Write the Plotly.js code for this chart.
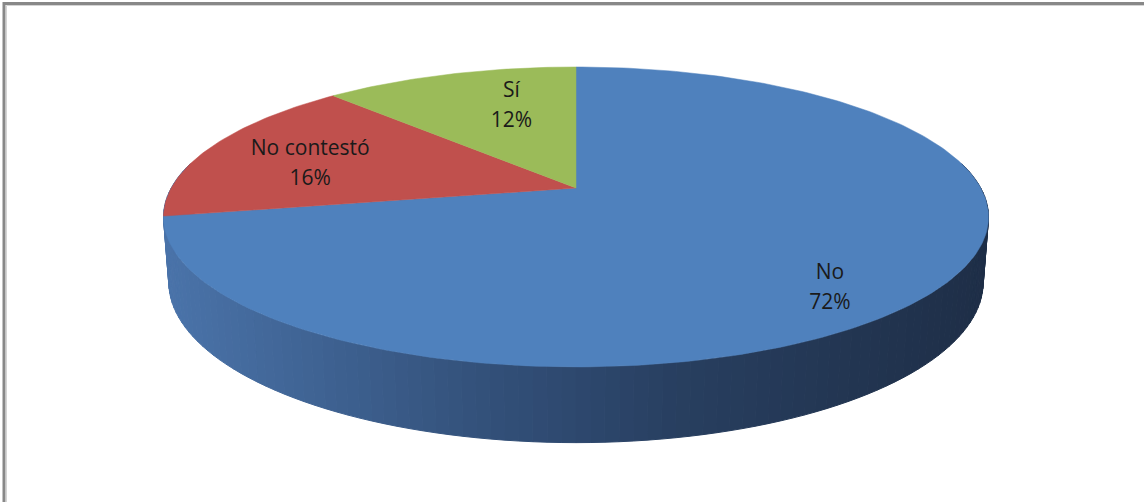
<!DOCTYPE html>
<html>
<head>
<meta charset="utf-8">
<script src="https://cdn.plot.ly/plotly-3.0.1.min.js"></script>
<style>html,body{margin:0;padding:0;background:#fff;}#chart{width:1144px;height:502px;}</style>
</head>
<body>
<div id="chart"></div>
<script>
// ---- data ----
const categories = ['No', 'No contestó', 'Sí'];
const values = [72, 16, 12];
const sliceColors = ['#4f81bd', '#c0504d', '#9bbb59'];

// ---- 3D perspective pie geometry (layout parameters) ----
const W = 1144, H = 502;
const cx = 576, cy = 188;          // screen position of pie centre
const f = 1959, D = 4.84;           // focal length (px) and camera distance (radius units)
const phi = 20.9 * Math.PI / 180;  // elevation
const c = Math.cos(phi), s = Math.sin(phi);
const depth = 0.17;                 // thickness in radius units
const labelR = [0.74, 0.72, 0.47];
const labelLift = [1.35, 0.75, 1.4];
const lineGap = 15;                 // half spacing between label lines (px)

function proj(X, Y, Z) {
  const w = D + Z * c - Y * s;
  const v = Y * c + Z * s;
  return [cx + f * X / w, cy - f * v / w];
}
function ptAt(deg, r, Y) {
  const t = deg * Math.PI / 180;
  return proj(r * Math.sin(t), Y, r * Math.cos(t));
}

// wall gradient colours by screen x
const stops = [[0, [74, 115, 169]], [0.38, [51, 81, 123]], [0.62, [40, 63, 96]], [1, [30, 46, 71]]];
function wallColor(x) {
  let t = (x - 165) / (988 - 165);
  t = Math.max(0, Math.min(1, t));
  for (let i = 0; i < stops.length - 1; i++) {
    const [t0, c0] = stops[i], [t1, c1] = stops[i + 1];
    if (t <= t1) {
      const u = (t - t0) / (t1 - t0);
      const col = c0.map((v, k) => Math.round(v + (c1[k] - v) * u));
      return 'rgb(' + col.join(',') + ')';
    }
  }
  return 'rgb(30,46,71)';
}

const traces = [];
// side wall: strips around the front half
const a0w = 80, a1w = 280, nStrips = 120;
for (let i = 0; i < nStrips; i++) {
  const aa = a0w + (a1w - a0w) * i / nStrips;
  const ab = a0w + (a1w - a0w) * (i + 1) / nStrips;
  const p = [ptAt(aa, 1, 0), ptAt(ab, 1, 0), ptAt(ab, 1, -depth), ptAt(aa, 1, -depth)];
  const col = wallColor((p[0][0] + p[1][0]) / 2);
  traces.push({
    type: 'scatter', mode: 'lines', fill: 'toself', fillcolor: col,
    line: {color: col, width: 1},
    x: p.map(q => q[0]).concat([p[0][0]]), y: p.map(q => q[1]).concat([p[0][1]]),
    hoverinfo: 'skip', showlegend: false
  });
}

// top face slices
const total = values.reduce((a, b) => a + b, 0);
let start = 0;
const labelX = [], labelY1 = [], labelY2 = [], labelCat = [], labelPct = [];
values.forEach((v, i) => {
  const end = start + v / total * 360;
  const xs = [], ys = [];
  const ctr = proj(0, 0, 0);
  xs.push(ctr[0]); ys.push(ctr[1]);
  const n = Math.max(4, Math.ceil(end - start));
  for (let k = 0; k <= n; k++) {
    const p = ptAt(start + (end - start) * k / n, 1, 0);
    xs.push(p[0]); ys.push(p[1]);
  }
  xs.push(ctr[0]); ys.push(ctr[1]);
  traces.push({
    type: 'scatter', mode: 'lines', fill: 'toself', fillcolor: sliceColors[i],
    line: {color: sliceColors[i], width: 0.5},
    x: xs, y: ys, hoverinfo: 'skip', showlegend: false
  });
  const mid = (start + end) / 2;
  const lp = ptAt(mid, labelR[i], 0);
  const ly = ctr[1] + (lp[1] - ctr[1]) * labelLift[i];
  labelX.push(lp[0]);
  labelY1.push(ly - lineGap);
  labelY2.push(ly + lineGap);
  labelCat.push(categories[i]);
  labelPct.push(v + '%');
  start = end;
});

const tf = {family: 'Open Sans, sans-serif', size: 21, color: '#1a1a1a'};
traces.push({
  type: 'scatter', mode: 'text', x: labelX, y: labelY1, text: labelCat,
  textposition: 'middle center', textfont: tf, hoverinfo: 'skip', showlegend: false
});
traces.push({
  type: 'scatter', mode: 'text', x: labelX, y: labelY2, text: labelPct,
  textposition: 'middle center', textfont: tf, hoverinfo: 'skip', showlegend: false
});

const layout = {
  width: W, height: H,
  margin: {l: 0, r: 0, t: 0, b: 0},
  paper_bgcolor: '#ffffff', plot_bgcolor: '#ffffff',
  xaxis: {range: [0, W], visible: false, fixedrange: true},
  yaxis: {range: [H, 0], visible: false, fixedrange: true},
  showlegend: false, hovermode: false,
  shapes: [
    {type: 'rect', xref: 'x', yref: 'y', x0: 4, y0: 3.5, x1: 1160, y1: 520,
     line: {color: '#888888', width: 3}},
    {type: 'rect', xref: 'x', yref: 'y', x0: 6.5, y0: 5.5, x1: 1160, y1: 520,
     line: {color: '#d4d4d4', width: 1}}
  ]
};

Plotly.newPlot('chart', traces, layout, {staticPlot: true, displayModeBar: false});
</script>
</body>
</html>
